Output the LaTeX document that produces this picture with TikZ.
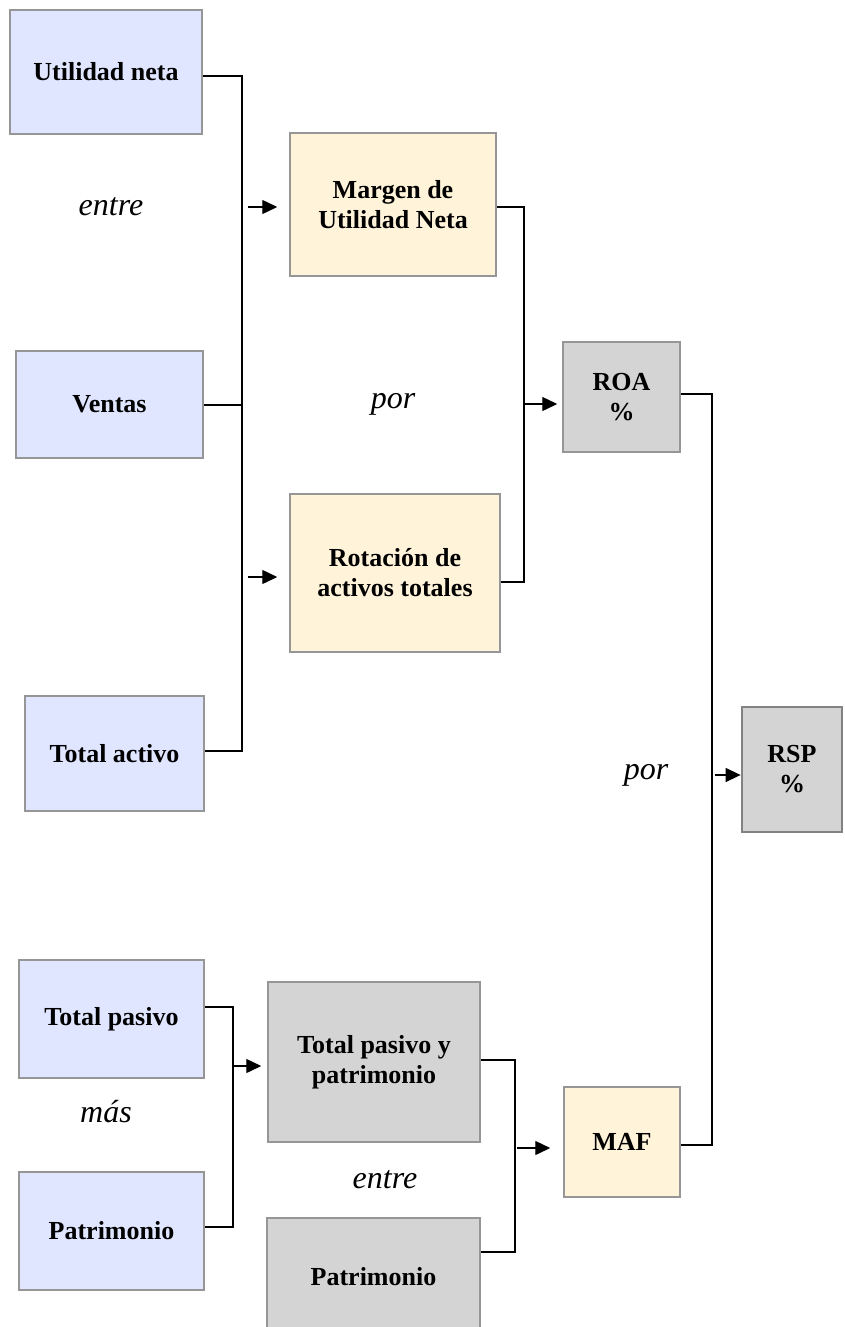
\documentclass[tikz,border=0pt]{standalone}
\usepackage{fontspec}
\setmainfont{Liberation Serif}
\usetikzlibrary{arrows.meta}
\definecolor{bluebox}{RGB}{224,230,255}
\definecolor{yellowbox}{RGB}{255,243,217}
\definecolor{graybox}{RGB}{212,212,212}
\definecolor{edgegray}{RGB}{150,150,150}
\definecolor{edgedark}{RGB}{130,130,130}
\begin{document}
\begin{tikzpicture}[x=1pt,y=-1pt,
  box/.style={draw=edgegray, line width=1.5pt, align=center, inner sep=0pt,
    font=\fontsize{26}{30}\selectfont\bfseries},
  bluefill/.style={box, fill=bluebox},
  yellowfill/.style={box, fill=yellowbox},
  grayfill/.style={box, fill=graybox},
  lbl/.style={font=\fontsize{32}{34}\selectfont\itshape, inner sep=0pt},
  conn/.style={line width=1.4pt, draw=black},
  arr/.style={conn, -{Triangle[length=15pt,width=14pt]}}]
\useasboundingbox (0,0) rectangle (845,1327);
% boxes
\node[bluefill, minimum width=192pt, minimum height=124pt] (un) at (106,72) {Utilidad neta};
\node[bluefill, minimum width=187pt, minimum height=107pt] (ventas) at (109.5,404.5) {Ventas};
\node[bluefill, minimum width=179pt, minimum height=115pt] (ta) at (114.5,753.5) {Total activo};
\node[yellowfill, minimum width=206pt, minimum height=143pt] (margen) at (393,204.5) {Margen de\\Utilidad Neta};
\node[yellowfill, minimum width=210pt, minimum height=158pt] (rot) at (395,573) {Rotación de\\activos totales};
\node[grayfill, minimum width=117pt, minimum height=110pt] (roa) at (621.5,397) {ROA\\\%};
\node[grayfill, draw=edgedark, line width=2.8pt, minimum width=100pt, minimum height=125pt] (rsp) at (792,769.5) {RSP\\\%};
\node[bluefill, minimum width=185pt, minimum height=118pt] (tp) at (111.5,1019) {Total pasivo};
\node[bluefill, minimum width=185pt, minimum height=118pt] (pat1) at (111.5,1231) {Patrimonio};
\node[grayfill, minimum width=212pt, minimum height=160pt] (tpp) at (374,1062) {Total pasivo y\\patrimonio};
\node[grayfill, minimum width=213pt, minimum height=118pt] (pat2) at (373.5,1277) {Patrimonio};
\node[yellowfill, minimum width=116pt, minimum height=110pt] (maf) at (622,1142) {MAF};
% labels
\node[lbl] (l1) at (111,207) {entre};
\node[lbl] (l2) at (393,404) {por};
\node[lbl] (l3) at (646,775) {por};
\node[lbl] (l4) at (106,1112) {más};
\node[lbl] (l5) at (385,1180) {entre};
% junction columns
\coordinate (ja) at (242,0);
\coordinate (jaa) at (248,0);
\coordinate (jb) at (524,0);
\coordinate (jc) at (712,0);
\coordinate (jcc) at (715,0);
\coordinate (jd) at (233,0);
\coordinate (je) at (515,0);
\coordinate (jee) at (517,0);
% connection points
\coordinate (unO) at ([yshift=-4pt]un.east);
\coordinate (veO) at ([yshift=-0.5pt]ventas.east);
\coordinate (taO) at ([yshift=2.5pt]ta.east);
\coordinate (mgI) at ([yshift=-2.5pt]margen.west);
\coordinate (mgO) at ([yshift=-2.5pt]margen.east);
\coordinate (rtI) at ([yshift=-4pt]rot.west);
\coordinate (rtO) at ([yshift=-9pt]rot.east);
\coordinate (roaI) at ([yshift=-7pt]roa.west);
\coordinate (roaO) at ([yshift=3pt]roa.east);
\coordinate (rspI) at ([yshift=-5.5pt]rsp.west);
\coordinate (tpO) at ([yshift=12pt]tp.east);
\coordinate (p1O) at ([yshift=4pt]pat1.east);
\coordinate (tppI) at ([yshift=-4pt]tpp.west);
\coordinate (tppO) at ([yshift=2pt]tpp.east);
\coordinate (p2O) at ([yshift=25pt]pat2.east);
\coordinate (mafI) at ([yshift=-6pt]maf.west);
\coordinate (mafO) at ([yshift=-3pt]maf.east);
% group 1
\draw[conn] (unO) -- (unO -| ja) |- (taO);
\draw[conn] (veO) -- (veO -| ja);
\draw[arr, shorten >=12pt] (mgI -| jaa) -- (mgI);
\draw[arr, shorten >=12pt] (rtI -| jaa) -- (rtI);
% group 2
\draw[conn] (mgO) -- (mgO -| jb) |- (rtO);
\draw[arr, shorten >=5pt] (roaI -| jb) -- (roaI);
% group 3
\draw[conn] (roaO) -- (roaO -| jc) |- (mafO);
\draw[arr] (rspI -| jcc) -- (rspI);
% group 4
\draw[conn] (tpO) -- (tpO -| jd) |- (p1O);
\draw[arr, shorten >=6pt] (tppI -| jd) -- (tppI);
% group 5
\draw[conn] (tppO) -- (tppO -| je) |- (p2O);
\draw[arr, shorten >=13pt] (mafI -| jee) -- (mafI);
\end{tikzpicture}
\end{document}
